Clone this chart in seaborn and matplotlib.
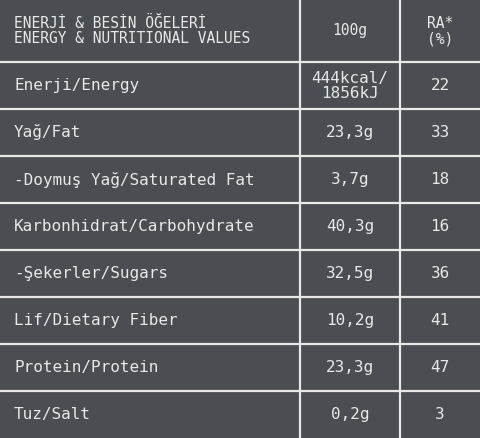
import matplotlib
matplotlib.use("Agg")
import matplotlib.pyplot as plt
import seaborn as sns

sns.set_theme(style="white")
plt.rcParams['font.family'] = ['DejaVu Sans Mono']

header = ["ENERJİ & BESİN ÖĞELERİ\nENERGY & NUTRITIONAL VALUES", "100g", "RA*\n(%)"]
nutrients = ["Enerji/Energy", "Yağ/Fat", "-Doymuş Yağ/Saturated Fat", "Karbonhidrat/Carbohydrate",
             "-Şekerler/Sugars", "Lif/Dietary Fiber", "Protein/Protein", "Tuz/Salt"]
per100 = ["444kcal/\n1856kJ", "23,3g", "3,7g", "40,3g", "32,5g", "10,2g", "23,3g", "0,2g"]
ra = ["22", "33", "18", "16", "36", "41", "47", "3"]

bg = "#4a4d51"
fg = "#e8e8e8"
col_edges = [0, 300, 400, 480]
row_edges = [0, 62] + [62 + 47 * (i + 1) for i in range(len(nutrients))]
row_edges[-1] = 438

fig = plt.figure(figsize=(4.8, 4.38), dpi=100, facecolor=bg)
ax = fig.add_axes([0, 0, 1, 1])
ax.set_facecolor(bg)
ax.set_xlim(0, 480)
ax.set_ylim(438, 0)
ax.axis("off")

for x in col_edges[1:-1]:
    ax.plot([x, x], [0, 438], color=fg, lw=1.6)
for y in row_edges[1:-1]:
    ax.plot([0, 480], [y, y], color=fg, lw=1.6)

rows = [header] + [[n, p, r] for n, p, r in zip(nutrients, per100, ra)]
for i, row in enumerate(rows):
    yc = (row_edges[i] + row_edges[i + 1]) / 2
    for j, txt in enumerate(row):
        fs = 10.5 if i == 0 else 11.5
        if j == 0:
            ax.text(14, yc, txt, ha="left", va="center", color=fg, fontsize=fs, linespacing=1.0)
        else:
            xc = (col_edges[j] + col_edges[j + 1]) / 2
            ax.text(xc, yc, txt, ha="center", va="center", color=fg, fontsize=fs, linespacing=1.0)

fig.savefig("out.png", dpi=100, facecolor=bg)
